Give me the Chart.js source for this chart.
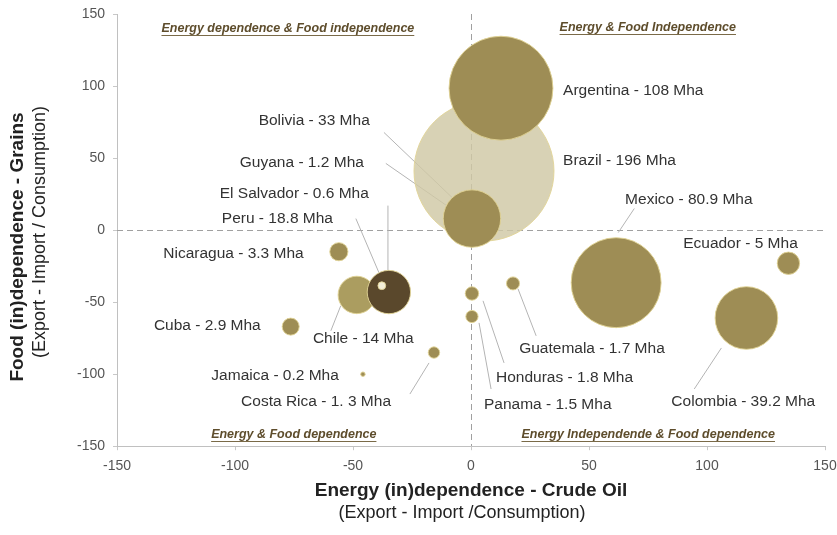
<!DOCTYPE html>
<html>
<head>
<meta charset="utf-8">
<script src="https://cdn.jsdelivr.net/npm/chart.js@4/dist/chart.umd.min.js"></script>
<style>
  body { margin: 0; background: #fff; }
  #chart_canvas { display: block; }
</style>
</head>
<body>
<canvas id="chart_canvas" width="837" height="535"></canvas>
<script>
// countries in draw order (Brazil first so the others sit on top of it)
var countries = ['Brazil', 'Guyana', 'Argentina', 'Bolivia', 'Mexico', 'Colombia', 'Chile', 'Peru',
                 'El Salvador', 'Ecuador', 'Nicaragua', 'Cuba', 'Guatemala', 'Honduras', 'Panama',
                 'Costa Rica', 'Jamaica'];
var energyIndep = [5.5, -2, 12.7, 0.4, 61.5, 116.7, -48.4, -34.8, -37.8, 134.5, -56, -76.4, 17.8, 0.4, 0.4, -15.7, -45.8];
var foodIndep   = [41, 10, 98.5, 8, -36.5, -61, -45, -43, -38.6, -23, -15, -67, -37, -44, -60, -85, -100];
var areaMha     = [196, 1.2, 108, 33, 80.9, 39.2, 14, 18.8, 0.6, 5, 3.3, 2.9, 1.7, 1.8, 1.5, 1.3, 0.2];
var pointLabels = ['Brazil - 196 Mha', 'Guyana - 1.2 Mha', 'Argentina - 108 Mha', 'Bolivia - 33 Mha',
                   'Mexico - 80.9 Mha', 'Colombia - 39.2 Mha', 'Chile - 14 Mha', 'Peru - 18.8 Mha',
                   'El Salvador - 0.6 Mha', 'Ecuador - 5 Mha', 'Nicaragua - 3.3 Mha', 'Cuba - 2.9 Mha',
                   'Guatemala - 1.7 Mha', 'Honduras - 1.8 Mha', 'Panama - 1.5 Mha', 'Costa Rica - 1. 3 Mha',
                   'Jamaica - 0.2 Mha'];
var quadrantTitles = ['Energy dependence & Food independence', 'Energy & Food Independence',
                      'Energy & Food dependence', 'Energy Independende & Food dependence'];
var axisTicks = [-150, -100, -50, 0, 50, 100, 150];

// bubble area proportional to Mha
const bubbleScale = 5;
const olive = '#9e8d55';
const fontFamily = '"Liberation Sans", Arial, sans-serif';
var pointColors = countries.map(function(c) {
    if (c == 'Brazil') return 'rgba(208,200,165,0.82)';
    if (c == 'Peru') return '#5a482c';
    if (c == 'Chile') return '#ab9d60';
    if (c == 'El Salvador') return '#f2eed8';
    return olive;
});

// label placement, in axis units: [x, y, align]
var labelPlace = {
    'Argentina': [39, 97, 'left'], 'Brazil': [39, 48.4, 'left'], 'Mexico': [65.3, 21.2, 'left'],
    'Ecuador': [89.9, -9.4, 'left'], 'Guatemala': [20.4, -82.6, 'left'], 'Honduras': [10.6, -102.8, 'left'],
    'Panama': [5.5, -120.9, 'left'], 'Colombia': [84.9, -118.8, 'left'], 'Bolivia': [-42.9, 76.2, 'right'],
    'Guyana': [-45.4, 47, 'right'], 'El Salvador': [-43.3, 25.4, 'right'], 'Peru': [-58.5, 8, 'right'],
    'Nicaragua': [-70.9, -16.4, 'right'], 'Cuba': [-89.1, -66.5, 'right'], 'Chile': [-67, -75.5, 'left'],
    'Jamaica': [-56, -101.3, 'right'], 'Costa Rica': [-33.9, -119.4, 'right']
};
// leader lines, in axis units: [x1, y1, x2, y2]
var leaders = [
    [-36.9, 67.8, 0, 10.1], [-36.1, 46.3, -3, 8.7], [-35.2, 17, -35.2, -36.5], [-48.8, 8, -39, -29.6],
    [-55.2, -52.5, -59.4, -69.9], [-25.9, -113.8, -17.8, -92.2], [19.9, -40.7, 27.6, -73.4],
    [5.1, -49.1, 14, -92.2], [3.4, -64.4, 8.5, -110.3], [69.2, 15, 62.4, -1.7], [106.1, -81.8, 94.6, -110.3]
];
var quadrantPlace = [[-77.6, 140.2], [74.9, 140.9], [-75.1, -141.6], [75.1, -141.6]];

var points = [];
for (var i = 0; i < countries.length; i++) {
    points.push({ x: energyIndep[i], y: foodIndep[i], r: bubbleScale * Math.sqrt(areaMha[i]) });
}

var overlay = {
    id: 'overlay',
    beforeDatasetsDraw: function(chart) {
        var ctx = chart.ctx, xs = chart.scales.x, ys = chart.scales.y, a = chart.chartArea;
        ctx.save();
        // dashed zero lines
        ctx.strokeStyle = '#a0a0a0';
        ctx.lineWidth = 1;
        ctx.setLineDash([6, 4]);
        ctx.beginPath();
        ctx.moveTo(a.left, Math.round(ys.getPixelForValue(0)) + 0.5);
        ctx.lineTo(a.right, Math.round(ys.getPixelForValue(0)) + 0.5);
        ctx.moveTo(Math.round(xs.getPixelForValue(0)) + 0.5, a.top);
        ctx.lineTo(Math.round(xs.getPixelForValue(0)) + 0.5, a.bottom);
        ctx.stroke();
        ctx.setLineDash([]);
        // leader lines
        ctx.strokeStyle = '#b4b4b4';
        leaders.forEach(function(l) {
            ctx.beginPath();
            ctx.moveTo(xs.getPixelForValue(l[0]), ys.getPixelForValue(l[1]));
            ctx.lineTo(xs.getPixelForValue(l[2]), ys.getPixelForValue(l[3]));
            ctx.stroke();
        });
        ctx.restore();
    },
    afterDatasetsDraw: function(chart) {
        var ctx = chart.ctx, xs = chart.scales.x, ys = chart.scales.y, a = chart.chartArea;
        ctx.save();
        ctx.textBaseline = 'middle';
        ctx.font = '15.5px ' + fontFamily;
        ctx.fillStyle = '#333';
        countries.forEach(function(c, i) {
            var p = labelPlace[c];
            ctx.textAlign = p[2];
            ctx.fillText(pointLabels[i], xs.getPixelForValue(p[0]), ys.getPixelForValue(p[1]));
        });
        // quadrant titles, underlined
        ctx.font = 'italic bold 12.5px ' + fontFamily;
        ctx.fillStyle = '#5e4d2c';
        ctx.strokeStyle = '#7a6a48';
        ctx.textAlign = 'center';
        quadrantTitles.forEach(function(t, i) {
            var x = xs.getPixelForValue(quadrantPlace[i][0]);
            var y = ys.getPixelForValue(quadrantPlace[i][1]);
            ctx.fillText(t, x, y);
            var w = ctx.measureText(t).width;
            ctx.beginPath();
            ctx.moveTo(x - w / 2, Math.round(y + 7) + 0.5);
            ctx.lineTo(x + w / 2, Math.round(y + 7) + 0.5);
            ctx.stroke();
        });
        // axis titles
        ctx.fillStyle = '#222';
        ctx.font = 'bold 19px ' + fontFamily;
        ctx.fillText('Energy (in)dependence - Crude Oil', 471, 491);
        ctx.font = '18px ' + fontFamily;
        ctx.fillText('(Export - Import /Consumption)', 462, 513);
        ctx.translate(18, 247);
        ctx.rotate(-Math.PI / 2);
        ctx.font = 'bold 19px ' + fontFamily;
        ctx.fillText('Food (in)dependence - Grains', 0, 0);
        ctx.font = '18px ' + fontFamily;
        ctx.fillText('(Export - Import / Consumption)', 15, 22);
        ctx.restore();
    }
};

var axisStyle = {
    type: 'linear',
    min: -150,
    max: 150,
    afterBuildTicks: function(scale) {
        scale.ticks = axisTicks.map(function(v) { return { value: v }; });
    },
    // let the layout padding alone decide where the plot area ends
    afterFit: function(scale) {
        scale.paddingLeft = 0;
        scale.paddingRight = 0;
        scale.paddingTop = 0;
        scale.paddingBottom = 0;
    },
    grid: { drawOnChartArea: false, drawTicks: true, tickLength: 4, color: '#c8c8c8' },
    border: { display: true, color: '#c0c0c0' },
    ticks: { color: '#555', font: { size: 14, family: fontFamily }, padding: 8 }
};

var chart = new Chart(document.getElementById('chart_canvas'), {
    type: 'bubble',
    data: {
        datasets: [{
            data: points,
            backgroundColor: pointColors,
            borderColor: 'rgba(225,212,150,0.9)',
            borderWidth: 1,
            hoverBorderWidth: 1
        }]
    },
    options: {
        responsive: false,
        animation: false,
        layout: { autoPadding: false, padding: { left: 69, right: 12, top: 14, bottom: 52 } },
        plugins: { legend: { display: false }, tooltip: { enabled: false } },
        scales: {
            x: Object.assign({}, axisStyle),
            y: Object.assign({}, axisStyle)
        }
    },
    plugins: [overlay]
});
</script>
</body>
</html>
